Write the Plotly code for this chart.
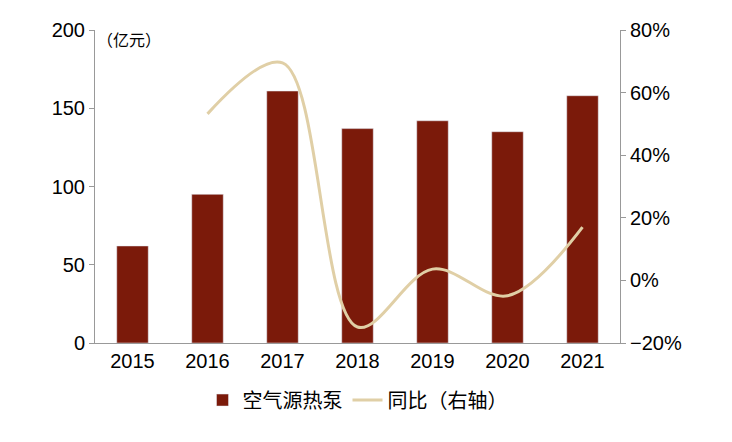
import plotly.graph_objects as go

years = ["2015","2016","2017","2018","2019","2020","2021"]
sales = [62, 95, 161, 137, 142, 135, 158]
yoy_years = ["2016","2017","2018","2019","2020","2021"]
yoy = [53.2, 69.5, -14.9, 3.6, -4.9, 17.0]

font = "Liberation Sans, Arial, Noto Sans CJK SC"
fig = go.Figure()
fig.add_bar(x=years, y=sales, name="空气源热泵", marker_color="#7B1A0A", width=0.42)
fig.add_scatter(x=yoy_years, y=yoy, name="同比（右轴）", yaxis="y2", mode="lines",
                line=dict(color="#E0CFA6", width=3, shape="spline", smoothing=1.0))
fig.update_layout(
    width=732, height=442, margin=dict(l=87, r=120, t=22, b=107, autoexpand=False),
    plot_bgcolor="white", paper_bgcolor="white",
    font=dict(family=font, size=20, color="#000"),
    xaxis=dict(showline=True, linecolor="#999", linewidth=1, ticks="", tickfont=dict(size=20)),
    yaxis=dict(range=[0, 200], dtick=50, showgrid=False, showline=True, linecolor="#999",
               ticks="outside", ticklen=5, tickcolor="#999", zeroline=False),
    yaxis2=dict(range=[-20, 80], dtick=20, overlaying="y", side="right", showgrid=False,
                showline=True, linecolor="#999", ticks="outside", ticklen=5, tickcolor="#999",
                ticksuffix="%", zeroline=False),
    legend=dict(orientation="h", x=0.5, xanchor="center", y=-0.12, yanchor="top",
                font=dict(size=20)),
    annotations=[dict(text="（亿元）", x=0, y=1.0, xref="paper", yref="paper",
                      xanchor="left", yanchor="top", showarrow=False, font=dict(size=16))],
)
fig.write_html("out.html")
